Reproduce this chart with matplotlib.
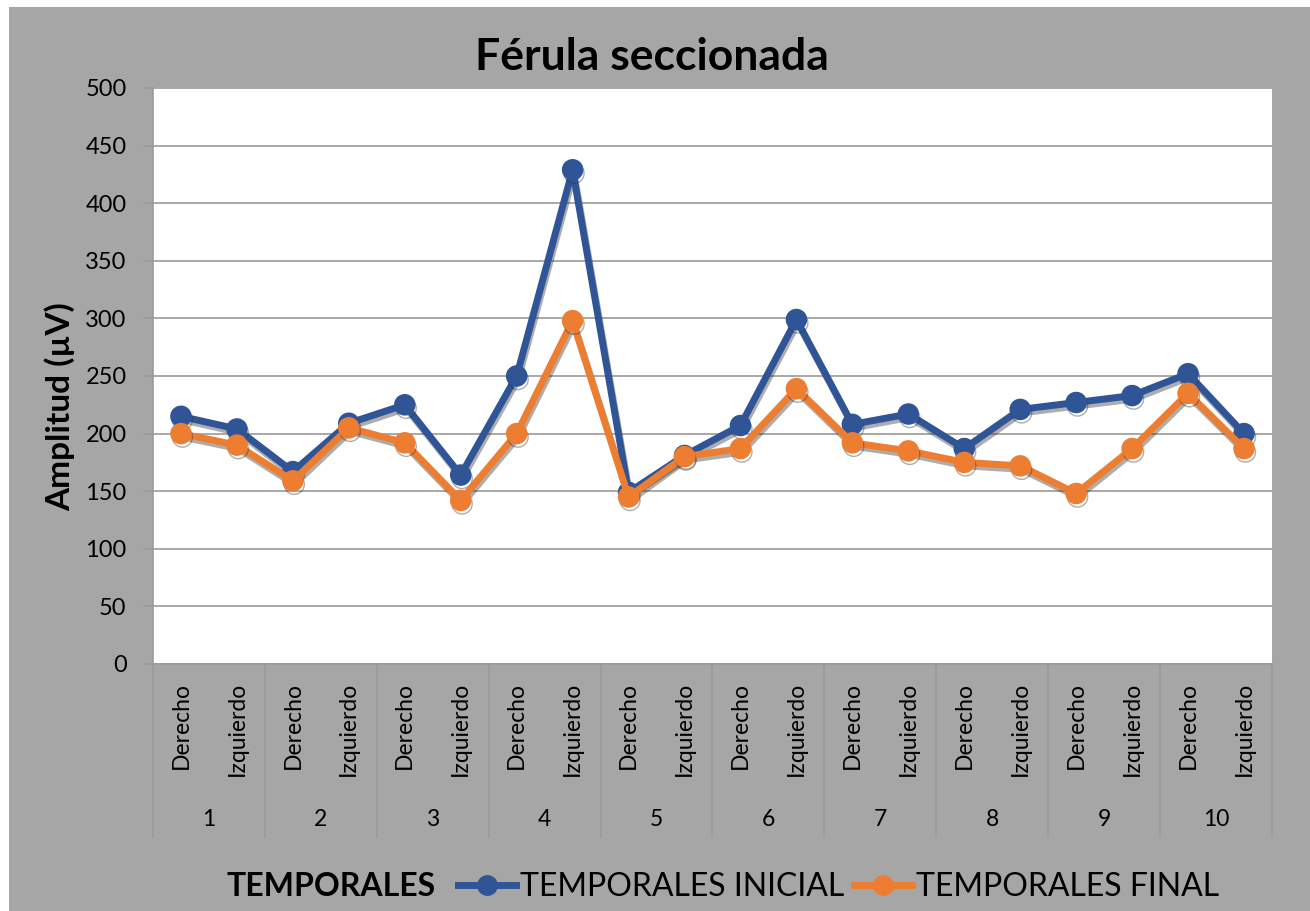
import matplotlib
matplotlib.use("Agg")
import matplotlib.pyplot as plt
import matplotlib.patheffects as pe
from matplotlib.patches import Rectangle
from matplotlib.lines import Line2D

plt.rcParams['font.family'] = ['Lato', 'DejaVu Sans']

groups = ['1', '2', '3', '4', '5', '6', '7', '8', '9', '10']
sides = ['Derecho', 'Izquierdo']
inicial = [215, 204, 167, 209, 225, 164, 250, 429, 149, 181,
           207, 299, 208, 217, 187, 221, 227, 233, 252, 200]
final = [200, 190, 159, 205, 192, 142, 200, 298, 145, 180,
         187, 239, 192, 185, 175, 172, 148, 187, 235, 187]
yticks = [0, 50, 100, 150, 200, 250, 300, 350, 400, 450, 500]

BLUE = '#2F5597'
ORANGE = '#ED7D31'
BG = '#A6A6A6'
GRID = '#9a9a9a'

W, H = 1310, 911
fig = plt.figure(figsize=(W / 100, H / 100), dpi=100)
fig.patch.set_facecolor('white')
fig.patches.append(Rectangle((9 / W, 0), 1 - 9 / W, 1 - 7 / H,
                             transform=fig.transFigure, facecolor=BG,
                             edgecolor='none', zorder=-10))

L, R, T, B = 153, 1272, 88, 664
ax = fig.add_axes([L / W, 1 - B / H, (R - L) / W, (B - T) / H])
ax.set_facecolor('white')

n = len(inicial)
xs = [i + 0.5 for i in range(n)]
shadow = [pe.SimpleLineShadow(offset=(1, -2.5), shadow_color='#333333', alpha=0.4),
          pe.Normal()]
ax.plot(xs, inicial, color=BLUE, lw=5, marker='o', ms=14.5, zorder=3,
        path_effects=shadow, solid_joinstyle='round')
ax.plot(xs, final, color=ORANGE, lw=5, marker='o', ms=14.5, zorder=4,
        path_effects=shadow, solid_joinstyle='round')

ax.set_xlim(0, n)
ax.set_ylim(0, 500)
ax.set_yticks(yticks)
ax.set_yticklabels([str(v) for v in yticks], fontsize=17)
ax.yaxis.grid(True, color=GRID, lw=1.2)
ax.set_axisbelow(True)
ax.tick_params(axis='y', length=7, width=1.2, color=GRID, pad=12)
ax.set_xticks([])
for s in ['top', 'right']:
    ax.spines[s].set_visible(False)
ax.spines['left'].set_color(GRID)
ax.spines['left'].set_linewidth(1.2)
ax.spines['bottom'].set_color(GRID)
ax.spines['bottom'].set_linewidth(1.2)

fig.text(60 / W, 1 - 407 / H, 'Amplitud (µV)', rotation=90, ha='center',
         va='center', fontsize=24, fontweight='bold')

# category table
tr = ax.get_xaxis_transform()
ah = B - T
for g in range(len(groups) + 1):
    ax.plot([2 * g, 2 * g], [0, -(837 - B) / ah], transform=tr, color=GRID,
            lw=1.2, clip_on=False)
for i in range(n):
    ax.text(xs[i], -(682 - B) / ah, sides[i % 2], transform=tr, rotation=90,
            ha='center', va='top', fontsize=16.5)
for g, lab in enumerate(groups):
    ax.text(2 * g + 1, -(820 - B) / ah, lab, transform=tr, ha='center',
            va='center', fontsize=16.5)

fig.text(652 / W, 1 - 57 / H, 'Férula seccionada', ha='center', va='center',
         fontsize=32, fontweight='bold')

fig.text(331 / W, 1 - 887 / H, 'TEMPORALES', ha='center', va='center',
         fontsize=23, fontweight='bold')
handles = [Line2D([], [], color=BLUE, lw=5, marker='o', ms=14),
           Line2D([], [], color=ORANGE, lw=5, marker='o', ms=14)]
leg = fig.legend(handles, ['TEMPORALES INICIAL', 'TEMPORALES FINAL'],
                 loc='center left', bbox_to_anchor=(458 / W, 1 - 887 / H),
                 ncol=2, frameon=False, fontsize=23, handlelength=1.8,
                 handletextpad=0.15, columnspacing=0.3, borderpad=0,
                 borderaxespad=0)

fig.savefig('out.png', dpi=100)
